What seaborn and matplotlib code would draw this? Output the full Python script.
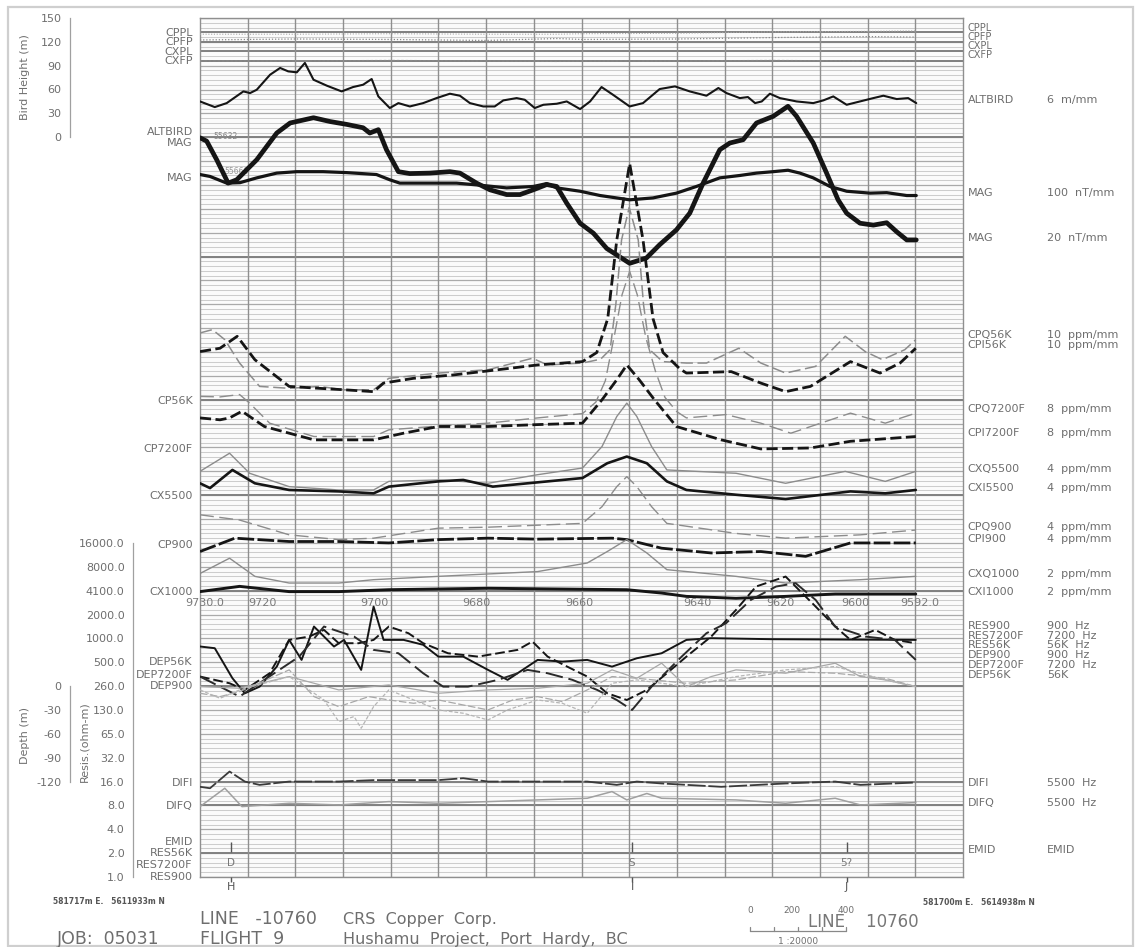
import numpy as np
import matplotlib
matplotlib.use("Agg")
import matplotlib.pyplot as plt
from matplotlib.lines import Line2D
from matplotlib.patches import Rectangle
from matplotlib.ticker import NullLocator
import seaborn as sns

sns.set_theme(style="white")
plt.rcParams["font.family"] = ["DejaVu Sans"]

# ---------------- data (x = position along line in chart mm, 10 mm per grid division) -------------
altbird_x = [0, 3.1, 5.6, 9.1, 10.5, 11.9, 14.7, 16.8, 18.5, 20.3, 22.0, 23.8, 26.6, 29.7, 32.1, 34.2,
             36.0, 37.4, 39.8, 41.6, 44.0, 46.8, 49.6, 52.4, 54.5, 56.6, 59.4, 61.8, 63.6, 66.4, 68.1,
             70.2, 72.0, 74.8, 76.9, 79.7, 81.8, 84.2, 86.6, 90.1, 92.9, 96.4, 99.6, 102.7, 106.2, 108.7,
             110.4, 113.2, 114.9, 116.4, 117.8, 119.5, 121.6, 125.1, 128.6, 130.7, 132.8, 135.6, 138.4,
             141.2, 143.3, 146.1, 148.5, 150.2]
altbird_m = [44.5, 37.4, 42.4, 57.1, 55.0, 59.2, 78.1, 86.6, 82.3, 81.1, 92.9, 71.8, 64.3, 57.1, 62.6, 65.5,
             72.7, 50.8, 36.2, 42.4, 38.2, 42.4, 48.7, 54.2, 51.7, 42.4, 38.2, 38.2, 45.8, 48.7, 46.6,
             36.2, 40.3, 41.6, 44.5, 34.9, 44.5, 62.6, 52.9, 38.2, 42.4, 60.1, 63.4, 57.1, 51.7, 61.4,
             55.0, 48.7, 50.0, 42.4, 44.5, 54.2, 48.7, 44.5, 42.4, 45.8, 50.8, 40.3, 44.5,
             48.7, 51.7, 47.5, 48.7, 42.4]

mag20_x = [0, 1.4, 3.5, 5.9, 7.7, 11.9, 16.1, 18.9, 23.8, 27.3, 30.8, 34.2, 35.6, 37.4, 39.1, 41.6, 44.0,
           48.2, 52.4, 54.5, 58.0, 60.8, 64.3, 67.1, 69.9, 72.7, 74.8, 76.9, 79.7, 82.5, 85.3, 90.1, 93.6,
           96.4, 99.9, 102.7, 105.5, 109.0, 111.1, 113.9, 116.7, 120.2, 123.3, 125.1, 128.6, 131.4, 133.8,
           135.6, 138.4, 141.2, 144.0, 146.1, 148.2, 150.2]
mag20_mm = [154.9, 154.2, 150.3, 145.4, 146.1, 150.3, 155.9, 158.0, 159.1, 158.3, 157.7, 157.0, 155.9, 156.6,
            152.4, 147.8, 147.4, 147.5, 147.8, 147.5, 145.4, 144.0, 143.0, 143.0, 144.0, 145.1, 144.7, 141.2,
            137.0, 134.9, 131.7, 128.6, 129.7, 132.5, 135.6, 139.1, 145.4, 152.4, 153.8, 154.5, 158.0, 159.4,
            161.5, 159.4, 153.8, 147.5, 141.9, 139.1, 137.0, 136.6, 137.1, 135.2, 133.5, 133.5]

mag100_x = [0, 2.1, 5.6, 8.4, 11.9, 16.1, 20.3, 25.8, 30.8, 37.0, 39.8, 41.9, 46.8, 53.8, 59.4, 64.3, 69.9,
            72.7, 74.8, 79.7, 83.9, 90.1, 95.0, 99.9, 104.1, 109.0, 113.2, 116.7, 120.2, 123.3, 125.8, 128.6,
            132.1, 135.6, 140.5, 144.0, 148.2, 150.2]
mag100_mm = [147.2, 146.8, 145.4, 145.5, 146.5, 147.5, 147.8, 147.8, 147.6, 147.2, 146.1, 145.4, 145.4, 145.4,
             144.9, 144.4, 144.7, 145.3, 144.4, 143.7, 142.8, 141.9, 142.3, 143.3, 144.7, 146.5, 147.0, 147.5,
             147.8, 148.1, 147.5, 146.5, 144.7, 143.7, 143.3, 143.4, 142.8, 142.8]

cpq56k_x = [0, 2.6, 5.2, 8.3, 12.5, 18.7, 25.0, 30.2, 36.4, 39.6, 50.0, 60.4, 69.7, 72.9, 80.2, 84.0, 86.0,
            87.2, 88.4, 90.0, 91.9, 93.0, 94.3, 97.0, 102.0, 106.2, 113.0, 117.6, 122.8, 129.1, 135.3, 139.5,
            143.1, 147.8, 150.1]
cpq56k_mm = [114.0, 114.7, 112.6, 107.7, 102.8, 102.4, 102.8, 102.1, 102.1, 104.5, 105.6, 106.3, 108.7, 107.3,
             107.7, 108.5, 110.5, 120.0, 133.5, 140.3, 133.5, 120.0, 110.5, 108.0, 107.7, 107.7, 110.8, 107.7,
             105.6, 107.0, 113.3, 110.1, 108.4, 110.5, 112.6]

cpi56k_x = [0, 4.2, 7.8, 11.5, 18.7, 25.0, 30.2, 36.4, 38.5, 44.8, 53.1, 62.5, 70.8, 80.2, 83.2, 85.5, 87.4,
            90.1, 92.9, 95.0, 97.1, 100.6, 102.0, 111.4, 117.6, 122.8, 128.0, 136.4, 142.6, 146.8, 150.1]
cpi56k_mm = [110.1, 110.8, 113.3, 108.4, 102.8, 102.4, 102.1, 101.7, 103.5, 104.5, 105.2, 106.3, 107.3, 108.0,
             109.9, 117.0, 133.5, 149.5, 133.5, 117.0, 109.9, 106.5, 105.6, 105.9, 103.5, 101.7, 102.8, 108.0,
             105.6, 107.7, 110.8]

cpq7200_x = [0, 4.2, 8.3, 10.4, 14.6, 23.9, 36.4, 39.6, 50.0, 60.4, 70.8, 80.2, 83.0, 85.0, 87.0, 88.5, 90.1,
             91.7, 93.5, 95.5, 97.5, 100.0, 102.0, 110.3, 117.6, 123.9, 136.4, 143.7, 150.1]
cpq7200_mm = [100.7, 100.6, 101.1, 99.3, 95.1, 92.3, 92.3, 93.7, 94.5, 95.1, 96.2, 97.1, 99.5, 104.0, 114.0,
              122.0, 126.9, 122.0, 113.0, 106.0, 100.5, 97.5, 96.2, 96.9, 95.1, 93.0, 97.2, 95.1, 97.2]

cpi7200_x = [0, 4.2, 6.2, 8.8, 13.5, 23.9, 36.4, 42.7, 50.0, 60.4, 70.8, 80.2, 84.3, 87.4, 89.5, 92.1, 95.3,
             99.9, 109.3, 117.6, 128.0, 136.4, 150.1]
cpi7200_mm = [96.2, 95.8, 96.2, 97.6, 94.4, 91.6, 91.6, 93.0, 94.4, 94.4, 94.8, 95.1, 100.0, 104.2, 107.3,
              104.2, 100.0, 94.4, 91.6, 89.7, 89.9, 91.3, 92.3]

cxq5500_x = [0, 6.2, 10.4, 18.7, 29.1, 36.4, 39.6, 50.0, 60.4, 70.8, 80.2, 84.3, 87.4, 89.5, 91.6, 94.7, 97.9,
             112.4, 122.8, 135.3, 143.7, 150.1]
cxq5500_mm = [85.0, 88.8, 84.6, 81.8, 81.1, 81.1, 82.9, 83.2, 82.5, 84.3, 85.7, 90.2, 96.5, 99.3, 96.5, 90.2,
              85.3, 84.6, 82.5, 85.0, 82.9, 85.0]

cxi5500_x = [0, 2.1, 6.8, 11.5, 18.7, 29.1, 36.4, 39.6, 50.0, 55.2, 61.4, 70.8, 80.2, 85.4, 89.5, 93.7, 97.9,
             102.0, 112.4, 122.8, 136.4, 143.7, 150.1]
cxi5500_mm = [82.5, 81.5, 85.3, 82.5, 81.1, 80.8, 80.4, 81.8, 82.9, 83.2, 81.8, 82.7, 83.6, 86.7, 88.1, 86.7,
              82.9, 81.1, 80.1, 79.2, 80.8, 80.4, 81.1]

cpq900_x = [0, 8.3, 18.7, 29.1, 36.4, 50.0, 60.4, 80.2, 84.3, 87.4, 89.5, 91.6, 94.7, 97.9, 112.4, 122.8,
            138.5, 150.1]
cpq900_mm = [75.9, 74.8, 71.7, 70.7, 71.0, 73.1, 73.3, 74.1, 77.6, 81.8, 83.9, 81.8, 77.6, 74.1, 72.0, 71.0,
             71.7, 72.7]

cpi900_x = [0, 7.3, 18.7, 29.1, 39.6, 50.0, 60.4, 70.8, 86.4, 89.5, 96.8, 107.2, 117.6, 127.0, 136.4, 150.1]
cpi900_mm = [68.2, 71.0, 70.3, 70.3, 70.0, 70.7, 71.0, 70.8, 71.0, 70.7, 68.9, 67.9, 68.2, 67.2, 70.0, 70.0]

cxq1000_x = [0, 6.2, 11.5, 18.7, 29.1, 36.4, 50.0, 70.8, 81.2, 85.4, 89.5, 93.7, 97.9, 112.4, 122.8, 138.5,
             150.1]
cxq1000_mm = [63.6, 66.8, 63.0, 61.6, 61.6, 62.3, 63.0, 64.0, 65.8, 68.2, 70.7, 67.9, 64.4, 63.0, 61.6, 62.3,
              63.0]

cxi1000_x = [0, 8.3, 18.7, 29.1, 39.6, 60.4, 89.5, 96.8, 102.0, 112.4, 122.8, 133.2, 150.1]
cxi1000_mm = [59.8, 60.9, 59.8, 59.8, 60.2, 60.5, 60.2, 59.5, 58.8, 58.4, 58.8, 59.3, 59.3]

# apparent resistivity, ohm-m
res900_x = [0, 3.1, 6.8, 9.4, 12.5, 16.1, 18.7, 21.3, 23.9, 28.1, 30.2, 33.8, 36.4, 38.5, 42.7, 46.8, 50.0,
            55.2, 60.4, 64.5, 70.8, 76.0, 81.2, 86.4, 91.6, 96.8, 102.0, 107.2, 120.0, 135.0, 150.1]
res900_ohm = [809, 770, 322, 208, 252, 451, 980, 548, 1445, 808, 980, 410, 2580, 980, 980, 850, 603,
              603, 410, 307, 548, 522, 548, 451, 575, 665, 980, 1030, 1000, 990, 980]

res7200_x = [0, 6.2, 9.4, 14.6, 18.7, 22.9, 26.0, 29.1, 33.3, 36.4, 39.6, 43.7, 46.8, 52.0, 58.3, 62.5, 66.6,
             69.7, 72.9, 77.0, 81.2, 85.4, 89.5, 93.7, 97.9, 102.0, 107.2, 112.4, 116.6, 122.8, 129.1, 133.2,
             136.4, 141.6, 145.7, 150.1]
res7200_ohm = [338, 278, 229, 372, 980, 1080, 1310, 890, 890, 980, 1445, 1190, 890, 665, 603, 665, 733,
               935, 603, 451, 338, 208, 171, 229, 372, 603, 1080, 2340, 4620, 6170, 2580, 1445,
               980, 1310, 980, 890]

res56k_x = [0, 8.3, 13.5, 20.8, 26.0, 32.3, 36.4, 41.6, 46.8, 51.0, 56.2, 62.5, 68.7, 72.9, 78.1, 83.3, 87.4,
            90.6, 94.7, 101.0, 106.2, 110.3, 115.5, 120.8, 124.9, 129.1, 133.2, 139.5, 145.7, 150.1]
res56k_ohm = [338, 189, 307, 603, 1445, 1080, 733, 665, 372, 252, 252, 307, 410, 372, 307, 229, 171,
              128, 252, 603, 1190, 1590, 3130, 4620, 5090, 3130, 1445, 1080, 980, 548]

# conductor depth, m
dep900_x = [0, 8.3, 18.7, 29.1, 39.6, 50.0, 60.4, 70.8, 81.2, 86.4, 91.6, 96.8, 102.0, 107.2, 112.4, 122.8,
            133.2, 138.5, 143.7, 150.1]
dep900_m = [0.6, 2.7, -12.0, 4.8, -1.5, 9.0, 4.8, 2.7, -3.6, -20.4, -9.9, -28.8, 0.6, -12.0, -20.4, -16.2,
            -28.8, -12.0, -7.8, 0.6]

dep7200_x = [0, 4.2, 8.3, 18.7, 23.9, 29.1, 35.4, 39.6, 44.8, 50.0, 55.2, 60.4, 65.6, 70.8, 76.0, 81.2, 86.4,
             91.6, 102.0, 112.4, 122.8, 133.2, 143.7, 150.1]
dep7200_m = [22.8, 27.0, 20.7, -6.6, 27.0, 39.6, 27.0, 31.2, 35.4, 31.2, 37.5, 43.7, 31.2, 27.0, 33.3, 18.6,
             1.8, 3.9, 10.2, 6.0, -4.5, -2.4, 3.9, 14.4]

dep56k_x = [0, 4.2, 8.3, 18.7, 22.9, 26.0, 29.1, 32.3, 33.8, 36.4, 39.6, 44.8, 50.0, 55.2, 60.4, 64.5, 70.8,
            76.0, 81.2, 86.4, 91.6, 102.0, 112.4, 122.8, 133.2, 143.7, 150.1]
dep56k_m = [35.4, 45.9, 35.4, 18.6, 35.4, 48.0, 75.2, 68.9, 83.6, 56.4, 35.4, 48.0, 60.5, 64.7, 73.1, 60.5,
            48.0, 52.2, 64.7, 27.0, 22.8, 31.2, 18.6, 10.2, 6.0, 22.8, 31.2]

difi_x = [0, 2.1, 6.2, 9.4, 12.5, 18.7, 29.1, 36.4, 50.0, 55.2, 60.4, 70.8, 81.2, 87.4, 91.6, 96.8, 109.3,
          122.8, 133.2, 138.5, 150.1]
difi_mm = [18.9, 18.6, 22.1, 20.0, 19.3, 20.0, 20.0, 20.3, 20.3, 20.7, 20.0, 20.0, 20.0, 19.3, 20.0, 19.6,
           18.9, 19.6, 20.0, 19.3, 19.8]

difq_x = [0, 5.2, 8.8, 18.7, 29.1, 39.6, 50.0, 60.4, 70.8, 81.2, 86.4, 89.5, 93.7, 96.8, 112.4, 122.8, 133.2,
          138.5, 150.1]
difq_mm = [14.75, 18.6, 14.75, 15.45, 15.1, 15.8, 15.45, 15.8, 16.15, 16.5, 17.9, 16.15, 17.5, 16.5, 16.15,
           15.45, 16.5, 15.1, 15.6]

mon_x = [0, 20, 40, 60, 75, 80, 100, 120, 140, 150]
cpfp_mm = [175.4, 175.6, 175.5, 175.3, 175.7, 175.5, 175.6, 175.9, 176.1, 176.0]
cxfp_mm = [171.0, 171.0, 171.1, 171.0, 170.9, 171.0, 171.0, 171.1, 171.0, 171.0]
cppl_mm = [176.6, 176.6, 176.7, 176.6, 176.6, 176.7, 176.8, 177.1, 177.2, 177.3]

fid_labels = ["9730.0", "9720", "9700", "9680", "9660", "9640", "9620", "9600", "9592.0"]
fid_x = [1.0, 13.0, 36.5, 57.9, 79.6, 104.2, 121.8, 137.4, 150.9]

emid_x = [6.5, 90.6, 135.6]
emid_grade = ["D", "S", "5?"]
emid_id = ["H", "I", "J"]

bird_ticks = [0, 30, 60, 90, 120, 150]
res_tick_labels = ["1.0", "2.0", "4.0", "8.0", "16.0", "32.0", "65.0", "130.0", "260.0", "500.0",
                   "1000.0", "2000.0", "4100.0", "8000.0", "16000.0"]
depth_ticks = [0, -30, -60, -90, -120]

left_labels = [("CPPL", 176.9), ("CPFP", 175.0), ("CXPL", 172.9), ("CXFP", 170.9), ("ALTBIRD", 156.2),
               ("MAG", 153.9), ("MAG", 146.5), ("CP56K", 99.8), ("CP7200F", 89.7), ("CX5500", 79.9),
               ("CP900", 69.6), ("CX1000", 59.7), ("DEP56K", 45.1), ("DEP7200F", 42.3), ("DEP900", 40.0),
               ("DIFI", 19.7), ("DIFQ", 14.9), ("EMID", 7.3), ("RES56K", 5.0), ("RES7200F", 2.5),
               ("RES900", 0.0)]
right_labels = [("CPPL", "", 177.9), ("CPFP", "", 176.0), ("CXPL", "", 174.2), ("CXFP", "", 172.3),
                ("ALTBIRD", "6  m/mm", 162.9), ("MAG", "100  nT/mm", 143.4), ("MAG", "20  nT/mm", 134.0),
                ("CPQ56K", "10  ppm/mm", 113.6), ("CPI56K", "10  ppm/mm", 111.5),
                ("CPQ7200F", "8  ppm/mm", 98.1), ("CPI7200F", "8  ppm/mm", 93.1),
                ("CXQ5500", "4  ppm/mm", 85.5), ("CXI5500", "4  ppm/mm", 81.6),
                ("CPQ900", "4  ppm/mm", 73.4), ("CPI900", "4  ppm/mm", 70.9),
                ("CXQ1000", "2  ppm/mm", 63.5), ("CXI1000", "2  ppm/mm", 59.7),
                ("RES900", "900  Hz", 52.6), ("RES7200F", "7200  Hz", 50.5), ("RES56K", "56K  Hz", 48.6),
                ("DEP900", "900  Hz", 46.5), ("DEP7200F", "7200  Hz", 44.4), ("DEP56K", "56K", 42.3),
                ("DIFI", "5500  Hz", 19.7), ("DIFQ", "5500  Hz", 15.5), ("EMID", "EMID", 5.7)]

# ---------------- layout ----------------
W, H = 1140, 947
def fx(px):
    return px / W
def fy(py):
    return 1 - py / H

TXT = "#6e6e6e"
GRID = "#8f8f8f"

fig = plt.figure(figsize=(11.4, 9.47), dpi=100)
fig.patch.set_facecolor("white")
ax = fig.add_axes([fx(200), fy(877), 763 / W, 859 / H])
ax.set_facecolor("#fbfbfb")

# chart paper
ys = np.arange(0, 181)
ax.hlines(ys[ys % 5 != 0], 0, 160, colors="#cdcdcd", linewidth=0.75, zorder=0)
ax.hlines(ys[ys % 5 == 0], 0, 160, colors="#aaaaaa", linewidth=0.9, zorder=0.2)
ax.hlines([177, 175, 173, 171, 155, 130, 100, 80, 60, 40, 20, 15, 5], 0, 160,
          colors="#808080", linewidth=1.4, zorder=0.4)
ax.vlines(np.arange(10, 160, 10), 0, 180, colors=GRID, linewidth=1.0, zorder=0.5)


def trace(x, y, color, lw, ls="-", z=3):
    sns.lineplot(x=list(x), y=list(y), ax=ax, color=color, linewidth=lw, linestyle=ls,
                 estimator=None, sort=False, zorder=z)


BLK = "#151515"
GRY = "#8c8c8c"
LGR = "#a8a8a8"

# monitors
trace(mon_x, cppl_mm, LGR, 0.8, (0, (1, 1.5)))
trace(mon_x, cpfp_mm, "#888888", 0.9, (0, (1, 1.5)))
trace(mon_x, cxfp_mm, "#888888", 0.9, (0, (2, 1.5)))

# altimeter (6 m/mm above the 155 mm baseline)
trace(altbird_x, 155.1 + np.array(altbird_m) / 6.0, BLK, 1.5)
# magnetics
trace(mag100_x, mag100_mm, BLK, 2.3)
trace(mag20_x, mag20_mm, BLK, 3.4)

# EM channels
trace(cpq56k_x, cpq56k_mm, GRY, 1.1, (0, (8, 3)))
trace(cpi56k_x, cpi56k_mm, BLK, 2.0, (0, (4, 1.6)))
trace(cpq7200_x, cpq7200_mm, GRY, 1.0, (0, (10, 4)))
trace(cpi7200_x, cpi7200_mm, BLK, 2.0, (0, (4, 1.6)))
trace(cxq5500_x, cxq5500_mm, GRY, 1.0)
trace(cxi5500_x, cxi5500_mm, BLK, 1.9)
trace(cpq900_x, cpq900_mm, GRY, 1.0, (0, (10, 4)))
trace(cpi900_x, cpi900_mm, BLK, 2.0, (0, (6, 1.2)))
trace(cxq1000_x, cxq1000_mm, GRY, 1.0)
trace(cxi1000_x, cxi1000_mm, BLK, 2.1)

# resistivity (log2 chart scale: 5 mm per doubling)
trace(res900_x, 5 * np.log2(res900_ohm), BLK, 1.4)
trace(res7200_x, 5 * np.log2(res7200_ohm), BLK, 1.4, (0, (5, 2)))
trace(res56k_x, 5 * np.log2(res56k_ohm), "#2a2a2a", 1.4, (0, (9, 3)))

# depths (6 m/mm below their baselines)
trace(dep900_x, 40.0 - np.array(dep900_m) / 6.0, LGR, 0.9)
trace(dep7200_x, 42.3 - np.array(dep7200_m) / 6.0, LGR, 0.9, (0, (6, 2)))
trace(dep56k_x, 45.1 - np.array(dep56k_m) / 6.0, "#b5b5b5", 0.9, (0, (3, 1.5)))

# difference channels
trace(difi_x, difi_mm, "#3a3a3a", 1.3, (0, (10, 1.5)))
trace(difq_x, difq_mm, "#a0a0a0", 1.1)

ax.set_xlim(0, 160)
ax.set_ylim(0, 180)
ax.set_xticks([])
ax.set_yticks([])
ax.set_xlabel("")
ax.set_ylabel("")
for s in ax.spines.values():
    s.set_color(GRID)
    s.set_linewidth(1.0)

# EM anomaly picks
ax.vlines(emid_x, 5.2, 7.4, colors="#555555", linewidth=1.0, zorder=4)
ax.vlines(emid_x, -1.0, 0.0, colors="#555555", linewidth=1.0, zorder=4, clip_on=False)
for xv, g, i in zip(emid_x, emid_grade, emid_id):
    ax.text(xv, 2.9, g, ha="center", va="center", fontsize=7.5, color="#777777", zorder=5)
    ax.text(xv, -2.1, i, ha="center", va="center", fontsize=8, color="#555555", clip_on=False)

# fiducials
for lab, xv in zip(fid_labels, fid_x):
    ax.text(xv, 57.4, lab, ha="center", va="center", fontsize=8, color="#7a7a7a", zorder=5)

# mag base values
ax.text(2.8, 155.1, "55632", fontsize=5.5, color="#888888", va="center", ha="left", zorder=2)
ax.text(5.2, 147.8, "55660", fontsize=5.5, color="#999999", va="center", ha="left", zorder=2)

# channel labels
for name, yv in left_labels:
    ax.text(-1.5, yv, name, ha="right", va="center", fontsize=8, color=TXT, clip_on=False)
for name, scale, yv in right_labels:
    small = scale == ""
    ax.text(161.0, yv, name, ha="left", va="center", fontsize=7 if small else 8, color=TXT,
            clip_on=False)
    if scale:
        ax.text(177.6, yv, scale, ha="left", va="center", fontsize=8, color=TXT, clip_on=False)


# ---------------- side scales ----------------
def side_axis(px_x, py_top, py_bot):
    a = fig.add_axes([fx(px_x), fy(py_bot), 0.0004, (py_bot - py_top) / H])
    a.set_facecolor("none")
    for k in ["top", "right", "bottom"]:
        a.spines[k].set_visible(False)
    a.spines["left"].set_color("#a0a0a0")
    a.spines["left"].set_linewidth(0.9)
    a.set_xticks([])
    a.tick_params(axis="y", direction="out", length=4, width=0.8, colors="#a0a0a0",
                  labelcolor=TXT, labelsize=8, pad=2)
    return a


mm = 859 / 180.0
ab = side_axis(70, 18, 877 - 155.1 * mm)
ab.set_ylim(0, 150)
ab.set_yticks(bird_ticks)
ab.set_yticklabels([str(t) for t in bird_ticks])

ar = side_axis(133, 877 - 70 * mm, 877)
ar.set_yscale("log", base=2)
ar.set_ylim(1, 2 ** 14)
ar.set_yticks([2 ** k for k in range(15)])
ar.set_yticklabels(res_tick_labels)
ar.yaxis.set_minor_locator(NullLocator())

ad = side_axis(70, 877 - 40 * mm, 877 - 20 * mm)
ad.set_ylim(-120, 0)
ad.set_yticks(depth_ticks)
ad.set_yticklabels([str(t) for t in depth_ticks])

fig.text(fx(25), fy(77), "Bird Height (m)", rotation=90, ha="center", va="center", fontsize=8, color=TXT)
fig.text(fx(25), fy(735), "Depth (m)", rotation=90, ha="center", va="center", fontsize=8, color=TXT)
fig.text(fx(84), fy(742), "Resis.(ohm-m)", rotation=90, ha="center", va="center", fontsize=8, color=TXT)

# ---------------- title block ----------------
fig.text(fx(53), fy(901), "581717m E.   5611933m N", fontsize=5.5, fontweight="bold", color="#555555",
         va="center")
fig.text(fx(923), fy(902), "581700m E.   5614938m N", fontsize=5.5, fontweight="bold", color="#555555",
         va="center")
fig.text(fx(200), fy(919), "LINE   -10760", fontsize=12.5, color=TXT, va="center")
fig.text(fx(343), fy(919), "CRS  Copper  Corp.", fontsize=11.5, color=TXT, va="center")
fig.text(fx(57), fy(939), "JOB:  05031", fontsize=12.5, color=TXT, va="center")
fig.text(fx(200), fy(939), "FLIGHT  9", fontsize=12.5, color=TXT, va="center")
fig.text(fx(343), fy(939), "Hushamu  Project,  Port  Hardy,  BC", fontsize=11.5, color=TXT, va="center")

# scale bar
fig.add_artist(Line2D([fx(750), fx(846)], [fy(931), fy(931)], color="#888888", lw=0.9))
for px in [750, 774, 798, 822, 846]:
    fig.add_artist(Line2D([fx(px), fx(px)], [fy(931), fy(927)], color="#888888", lw=0.9))
fig.text(fx(750), fy(910), "0", fontsize=6.5, color=TXT, ha="center", va="center")
fig.text(fx(792), fy(910), "200", fontsize=6.5, color=TXT, ha="center", va="center")
fig.text(fx(846), fy(910), "400", fontsize=6.5, color=TXT, ha="center", va="center")
fig.text(fx(798), fy(941), "1 :20000", fontsize=6.5, color=TXT, ha="center", va="center")
fig.text(fx(808), fy(922), "LINE    10760", fontsize=12, color="#777777", va="center")

fig.add_artist(Rectangle((fx(8), fy(946)), fx(1125), (946 - 7) / H, fill=False,
                         edgecolor="#cfcfcf", lw=1.6))

fig.savefig("out.png", dpi=100)
